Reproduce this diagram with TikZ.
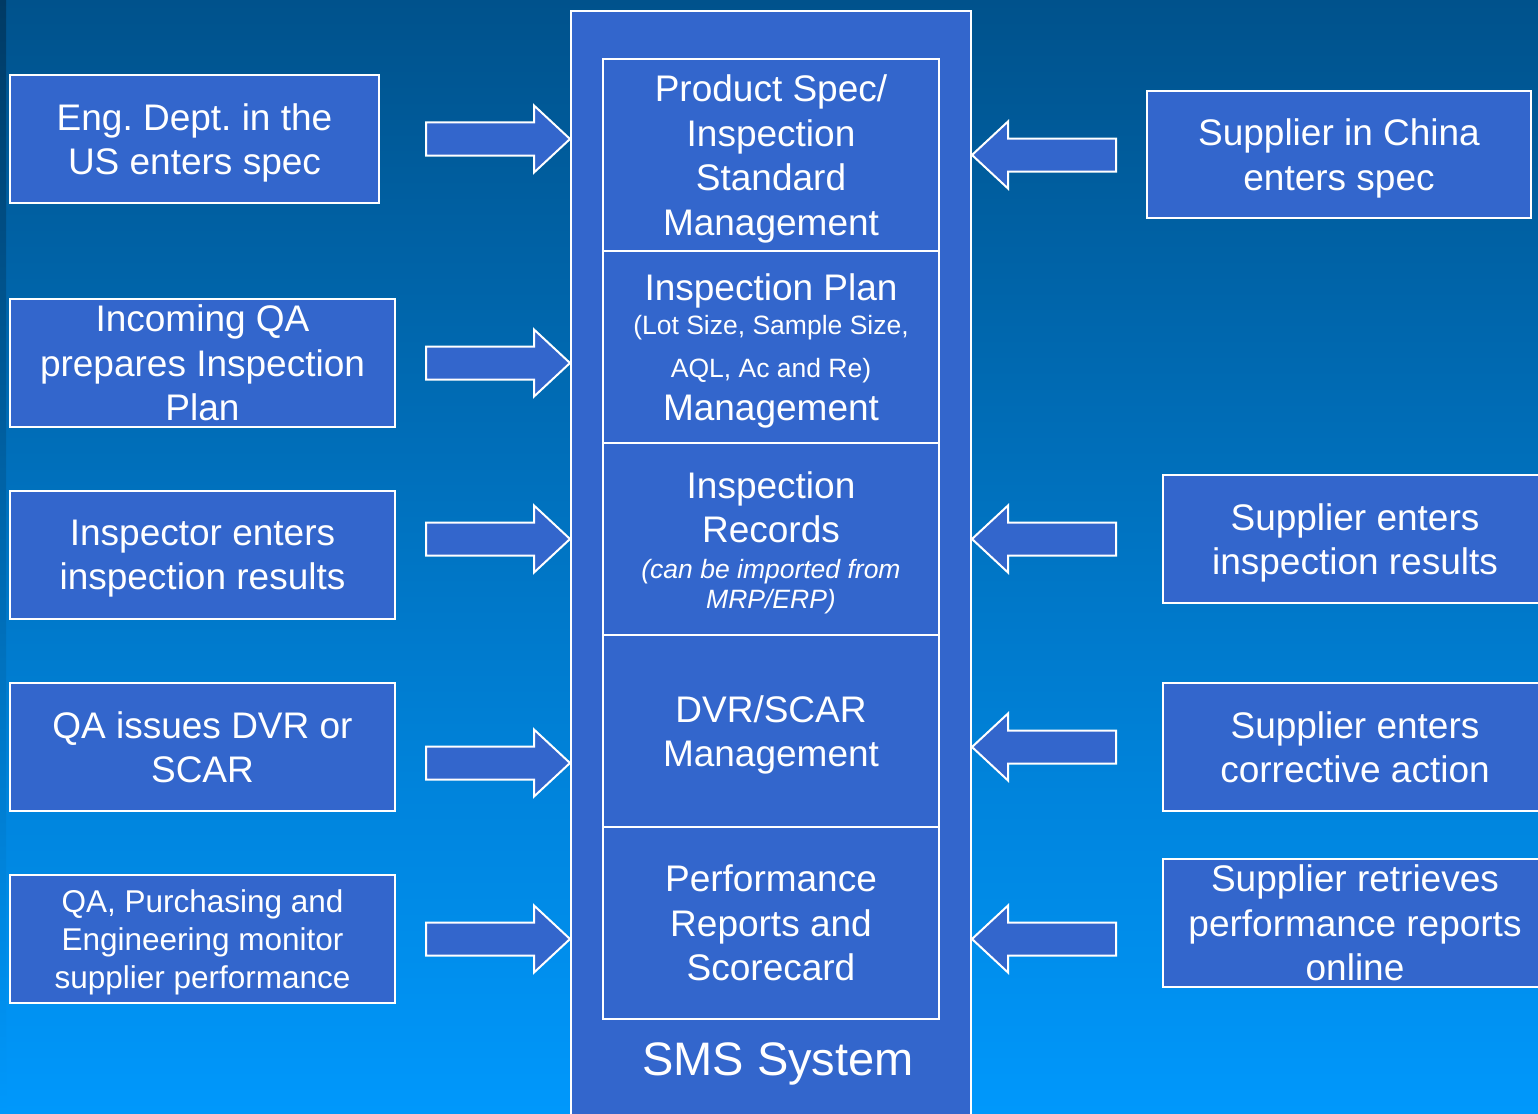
\documentclass[tikz,border=0pt]{standalone}
\usepackage{fontspec}
\setmainfont{Liberation Sans}
\definecolor{boxblue}{HTML}{3366CC}
\definecolor{bgtop}{RGB}{0,82,140}
\definecolor{bgbot}{RGB}{0,152,252}
\definecolor{edgetop}{RGB}{0,58,100}
\begin{document}
\frenchspacing
\begin{tikzpicture}[x=1pt,y=-1pt,
  box/.style={draw=white, line width=2pt, fill=boxblue, text=white, inner sep=0pt, align=center, text depth=-3pt},
  big/.style={font=\fontsize{37}{44.5}\selectfont},
  mid/.style={font=\fontsize{31.5}{38}\selectfont},
  line/.style={text=white, inner sep=0pt, anchor=base},
  arrowshape/.style={draw=white, line width=2pt, fill=boxblue, line join=miter},
  inarrow/.pic={\draw[arrowshape] (0,-16.5) -- (108,-16.5) -- (108,-33.5) -- (144,0) -- (108,33.5) -- (108,16.5) -- (0,16.5) -- cycle;}
]
\clip (0,0) rectangle (1538,1113);
\useasboundingbox (0,0) rectangle (1538,1113);
\shade[top color=bgtop, bottom color=bgbot] (0,0) rectangle (1538,1113);
\shade[top color=edgetop, bottom color=bgbot] (0,0) rectangle (6,1113);

% central system box
\node[box, minimum width=400, minimum height=1130] (sms) at (771,576) {};
\node[box, big, minimum width=336, minimum height=192] (spec) at (771,155)
  {Product Spec/\\Inspection\\Standard\\Management};
\node[box, minimum width=336, minimum height=192] (plan) at (771,347) {};
\node[line, big] (plan1) at (771,300) {Inspection Plan};
\node[line, font=\fontsize{26.5}{30}\selectfont] (plan2) at (771,334) {(Lot Size, Sample Size,};
\node[line, font=\fontsize{26.5}{30}\selectfont] (plan3) at (771,377) {AQL, Ac and Re)};
\node[line, big] (plan4) at (771,420) {Management};
\node[box, minimum width=336, minimum height=192] (rec) at (771,539) {};
\node[line, big] (rec1) at (771,498) {Inspection};
\node[line, big] (rec2) at (771,542) {Records};
\node[line, font=\fontsize{26.5}{30}\selectfont\itshape] (rec3) at (771,578) {(can be imported from};
\node[line, font=\fontsize{26.5}{30}\selectfont\itshape] (rec4) at (771,608) {MRP/ERP)};
\node[box, big, minimum width=336, minimum height=192] (dvr) at (771,731)
  {DVR/SCAR\\Management};
\node[box, big, minimum width=336, minimum height=192] (perf) at (771,923)
  {Performance\\Reports and\\Scorecard};
\node[line, font=\fontsize{47}{52}\selectfont] (smslabel) at (778,1075) {SMS System};

% left boxes
\node[box, big, minimum width=369, minimum height=128] (l1) at (194.5,139)
  {Eng. Dept. in the\\US enters spec};
\node[box, big, minimum width=385, minimum height=128] (l2) at (202.5,363)
  {Incoming QA\\prepares Inspection\\Plan};
\node[box, big, minimum width=385, minimum height=128] (l3) at (202.5,555)
  {Inspector enters\\inspection results};
\node[box, big, minimum width=385, minimum height=128] (l4) at (202.5,747)
  {QA issues DVR or\\SCAR};
\node[box, mid, minimum width=385, minimum height=128] (l5) at (202.5,939)
  {QA, Purchasing and\\Engineering monitor\\supplier performance};

% right boxes
\node[box, big, minimum width=384, minimum height=127] (r1) at (1339,154.5)
  {Supplier in China\\enters spec};
\node[box, big, minimum width=384, minimum height=128] (r2) at (1355,539)
  {Supplier enters\\inspection results};
\node[box, big, minimum width=384, minimum height=128] (r3) at (1355,747)
  {Supplier enters\\corrective action};
\node[box, big, minimum width=384, minimum height=128] (r4) at (1355,923)
  {Supplier retrieves\\performance reports\\online};

% block arrows into the system
\foreach \y/\n in {139/a1,363/a2,539/a3,763/a4,939/a5}
  \path (sms.west |- 0,\y) ++(-144,0) coordinate (\n) pic {inarrow};
\foreach \y/\n in {155/b1,539/b2,747/b3,939/b4}
  \path (sms.east |- 0,\y) ++(144,0) coordinate (\n) pic[xscale=-1] {inarrow};
\end{tikzpicture}
\end{document}
